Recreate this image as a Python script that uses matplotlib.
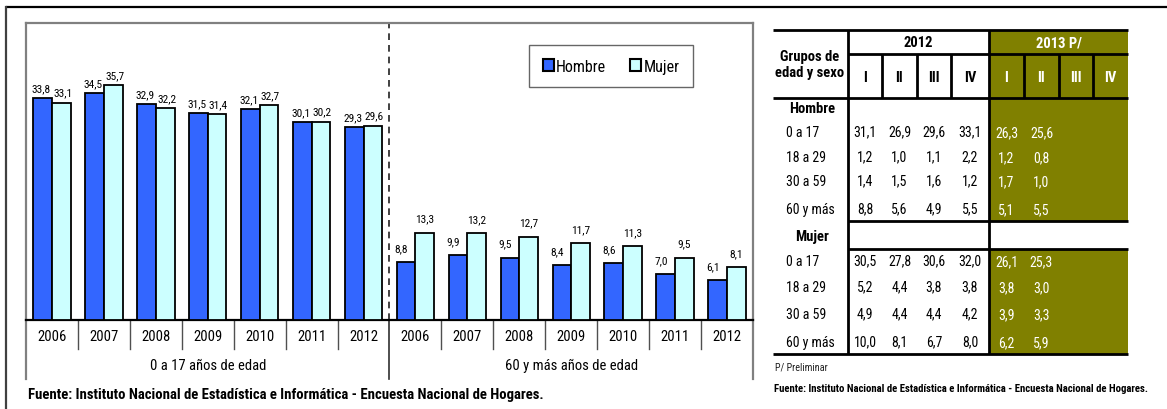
import matplotlib
matplotlib.use("Agg")
import matplotlib.pyplot as plt
from matplotlib import font_manager as fm
from matplotlib.patches import Rectangle
import numpy as np

# ---------------- data ----------------
years = ["2006", "2007", "2008", "2009", "2010", "2011", "2012"]
grupos_bar = ["0 a 17 años de edad", "60 y más años de edad"]
hombre_0_17 = [33.8, 34.5, 32.9, 31.5, 32.1, 30.1, 29.3]
mujer_0_17 = [33.1, 35.7, 32.2, 31.4, 32.7, 30.2, 29.6]
hombre_60 = [8.8, 9.9, 9.5, 8.4, 8.6, 7.0, 6.1]
mujer_60 = [13.3, 13.2, 12.7, 11.7, 11.3, 9.5, 8.1]
series_names = ["Hombre", "Mujer"]

tabla_grupos = ["0 a 17", "18 a 29", "30 a 59", "60 y más"]
trimestres = ["I", "II", "III", "IV"]
anios_tabla = ["2012", "2013 P/"]
hombre_2012 = [[31.1, 26.9, 29.6, 33.1], [1.2, 1.0, 1.1, 2.2], [1.4, 1.5, 1.6, 1.2], [8.8, 5.6, 4.9, 5.5]]
hombre_2013 = [[26.3, 25.6], [1.2, 0.8], [1.7, 1.0], [5.1, 5.5]]
mujer_2012 = [[30.5, 27.8, 30.6, 32.0], [5.2, 4.4, 3.8, 3.8], [4.9, 4.4, 4.4, 4.2], [10.0, 8.1, 6.7, 8.0]]
mujer_2013 = [[26.1, 25.3], [3.8, 3.0], [3.9, 3.3], [6.2, 5.9]]

fuente = "Fuente: Instituto Nacional de Estadística e Informática - Encuesta Nacional de Hogares."


def pick(names):
    for n in names:
        try:
            fm.findfont(fm.FontProperties(family=n), fallback_to_default=False)
            return n
        except Exception:
            pass
    return "DejaVu Sans"


FONT = pick(["Liberation Sans Narrow", "Arial Narrow", "Roboto Condensed", "Liberation Sans", "Arial"])
plt.rcParams["font.family"] = [FONT, "DejaVu Sans"]


def fmt(v):
    return f"{v:.1f}".replace(".", ",")


W, H = 1167, 410
fig = plt.figure(figsize=(W / 100, H / 100), dpi=100)
fig.patch.set_facecolor("white")

# background axes in pixel coordinates
bg = fig.add_axes([0, 0, 1, 1])
bg.set_xlim(0, W)
bg.set_ylim(H, 0)
bg.axis("off")

C_H = "#3366FF"
C_M = "#CCFFFF"
OLIVE = "#808000"
GRAY = "#808080"

# outer frame
bg.plot([6, W], [8, 8], color="black", lw=1.6, solid_capstyle="butt")
bg.plot([6, 6], [8, H], color="#404040", lw=1.6)

# ---------------- bar chart ----------------
L, R, T, B = 26, 753, 24, 321
ax = fig.add_axes([L / W, (H - B) / H, (R - L) / W, (B - T) / H])
ax.set_xlim(0, 14)
ax.set_ylim(0, 45.2)
ax.set_xticks([])
ax.set_yticks([])
for s in ["left", "top", "right"]:
    ax.spines[s].set_color(GRAY)
    ax.spines[s].set_linewidth(1.6)
ax.spines["bottom"].set_color("black")
ax.spines["bottom"].set_linewidth(1.6)

bw = 0.36
hom = hombre_0_17 + hombre_60
muj = mujer_0_17 + mujer_60
xc = np.arange(len(hom)) + 0.5
ax.bar(xc - bw / 2, hom, width=bw, color=C_H, edgecolor="black", linewidth=1.3, label=series_names[0], zorder=3)
ax.bar(xc + bw / 2, muj, width=bw, color=C_M, edgecolor="black", linewidth=1.3, label=series_names[1], zorder=3)

for i, (h, m) in enumerate(zip(hom, muj)):
    dy = 3.5 if i < 7 else 6.5
    dxh = -1.0 if i < 7 else -3.5
    ax.annotate(fmt(h), (xc[i] - bw / 2, h), xytext=(dxh, dy), textcoords="offset points",
                ha="center", va="bottom", fontsize=8.2, color="black")
    ax.annotate(fmt(m), (xc[i] + bw / 2, m), xytext=(1.0 if i < 7 else 0, dy), textcoords="offset points",
                ha="center", va="bottom", fontsize=8.2, color="black")

# dashed divider
ax.axvline(7, color="#202020", lw=1.2, ls=(0, (4, 3)), zorder=2)

# category rows
tr = ax.get_xaxis_transform()
y1 = (B - 350) / (B - T)
y2 = (B - 380) / (B - T)
for k in range(15):
    if k in (0, 14):
        ax.plot([k, k], [0, y2], transform=tr, clip_on=False, color=GRAY, lw=1.6)
    elif k == 7:
        ax.plot([k, k], [0, y2], transform=tr, clip_on=False, color="#303030", lw=1.2)
    else:
        ax.plot([k, k], [0, y1], transform=tr, clip_on=False, color="#505050", lw=1.0)
for i in range(14):
    ax.text(xc[i], (B - 337) / (B - T), years[i % 7], transform=tr, ha="center", va="center", fontsize=10.5)
for g in range(2):
    ax.text(3.5 + 7 * g, (B - 366) / (B - T), grupos_bar[g], transform=tr, ha="center", va="center",
            fontsize=10.5)

leg = ax.legend(loc="center", bbox_to_anchor=(0.805, 0.855), ncol=2, frameon=True, fancybox=False,
                fontsize=11.5, handlelength=0.7, handleheight=0.7, handletextpad=0.15,
                columnspacing=1.5, borderpad=0.85)
leg.get_frame().set_edgecolor("#404040")
leg.get_frame().set_linewidth(1.0)
for p in leg.get_patches():
    p.set_linewidth(1.5)

bg.text(28, 395, fuente, fontsize=10.6, fontweight="bold", va="center", ha="left")

# ---------------- table ----------------
tx0, tx1 = 773, 1128
xlab = 848
xo = 989
cols12 = [848, 882, 917, 951, 989]
cols13 = [989, 1024, 1059, 1093, 1128]
ytop, y2012, yhead, ybot = 31, 55, 99, 355
yh_rows = [133, 158, 182, 210]
ym_rows = [262, 288, 315, 343]
yw1, yw2 = 222, 250

# olive backgrounds
bg.add_patch(Rectangle((xo, ytop), tx1 - xo, yw1 - ytop, facecolor=OLIVE, edgecolor="none", zorder=1))
bg.add_patch(Rectangle((xo, yw2), tx1 - xo, ybot - yw2, facecolor=OLIVE, edgecolor="none", zorder=1))

lk = dict(color="black", lw=2.0, zorder=3, solid_capstyle="butt")
bg.plot([tx0, tx1], [ytop, ytop], **lk)
bg.plot([xlab, tx1], [y2012, y2012], **lk)
bg.plot([tx0, tx1], [yhead, yhead], **lk)
bg.plot([xlab, tx1], [yw1, yw1], **lk)
bg.plot([xlab, tx1], [yw2, yw2], **lk)
bg.plot([tx0, tx1], [ybot, ybot], **lk)
bg.plot([xlab, xlab], [ytop, ybot], **lk)
bg.plot([xo, xo], [ytop, ybot], **lk)
for x in cols12[1:-1] + cols13[1:-1]:
    bg.plot([x, x], [y2012, yhead], **lk)

bg.text(810, 65, "Grupos de\nedad y sexo", ha="center", va="center", fontsize=10.5, fontweight="bold",
        linespacing=1.1, zorder=4)
bg.text((cols12[0] + cols12[-1]) / 2, 43, anios_tabla[0], ha="center", va="center", fontsize=10.5,
        fontweight="bold", zorder=4)
bg.text((cols13[0] + cols13[-1]) / 2, 43, anios_tabla[1], ha="center", va="center", fontsize=10.5,
        fontweight="bold", color="white", zorder=4)
for j in range(4):
    bg.text((cols12[j] + cols12[j + 1]) / 2, 78, trimestres[j], ha="center", va="center", fontsize=10.5,
            fontweight="bold", zorder=4)
    bg.text((cols13[j] + cols13[j + 1]) / 2, 78, trimestres[j], ha="center", va="center", fontsize=10.5,
            fontweight="bold", color="white", zorder=4)

bg.text(812, 109, series_names[0], ha="center", va="center", fontsize=10.5, fontweight="bold", zorder=4)
bg.text(812, 237, series_names[1], ha="center", va="center", fontsize=10.5, fontweight="bold", zorder=4)

for rows_y, v12, v13 in [(yh_rows, hombre_2012, hombre_2013), (ym_rows, mujer_2012, mujer_2013)]:
    for r, yy in enumerate(rows_y):
        bg.text(786, yy, tabla_grupos[r], ha="left", va="center", fontsize=10, zorder=4)
        for j, v in enumerate(v12[r]):
            bg.text((cols12[j] + cols12[j + 1]) / 2, yy - 1, fmt(v), ha="center", va="center",
                    fontsize=10, zorder=4)
        for j, v in enumerate(v13[r]):
            bg.text((cols13[j] + cols13[j + 1]) / 2, yy, fmt(v), ha="center", va="center",
                    fontsize=10, color="white", zorder=4)

bg.text(775, 368, "P/ Preliminar", ha="left", va="center", fontsize=7.3, color="#202020")
bg.text(774, 389, fuente, ha="left", va="center", fontsize=7.75, fontweight="bold")

fig.savefig("out.png", dpi=100)
